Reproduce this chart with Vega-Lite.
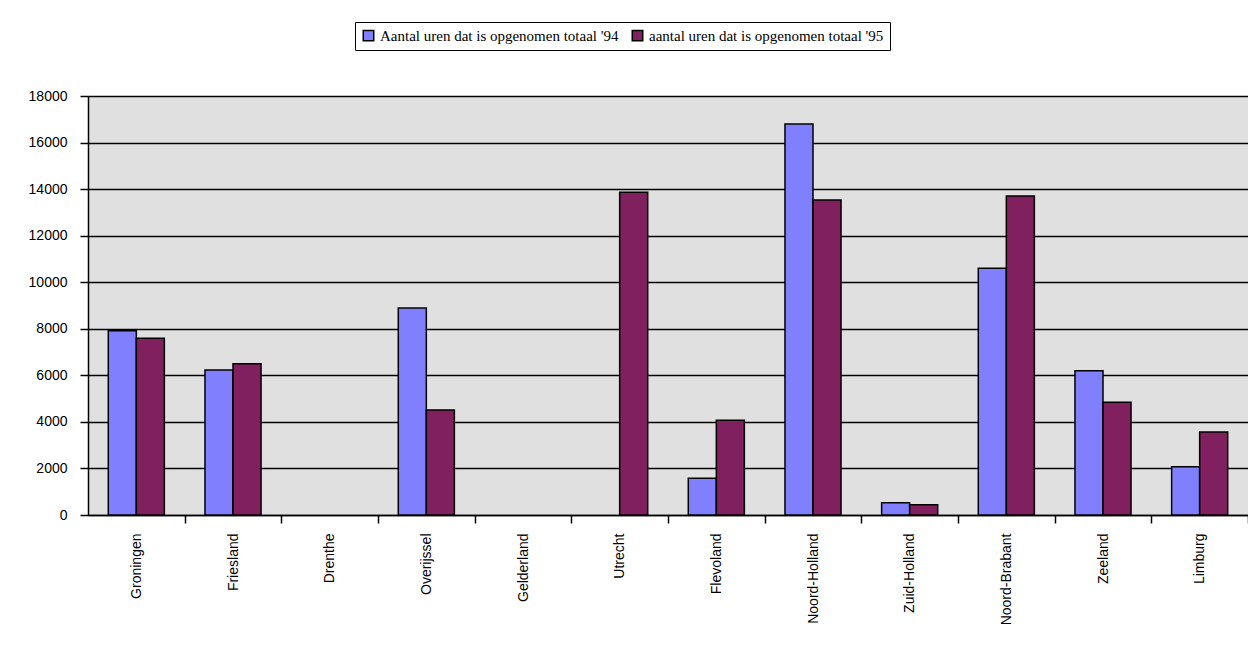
{
  "$schema": "https://vega.github.io/schema/vega-lite/v6.json",
  "width": 1160,
  "height": 419,
  "autosize": {"type": "none"},
  "padding": {"left": 88, "top": 96, "right": 0, "bottom": 155},
  "background": "white",
  "data": {
    "values": [
      {"provincie": "Groningen", "reeks": "Aantal uren dat is opgenomen totaal '94", "uren": 7920},
      {"provincie": "Groningen", "reeks": "aantal uren dat is opgenomen totaal '95", "uren": 7590},
      {"provincie": "Friesland", "reeks": "Aantal uren dat is opgenomen totaal '94", "uren": 6230},
      {"provincie": "Friesland", "reeks": "aantal uren dat is opgenomen totaal '95", "uren": 6500},
      {"provincie": "Overijssel", "reeks": "Aantal uren dat is opgenomen totaal '94", "uren": 8890},
      {"provincie": "Overijssel", "reeks": "aantal uren dat is opgenomen totaal '95", "uren": 4510},
      {"provincie": "Utrecht", "reeks": "aantal uren dat is opgenomen totaal '95", "uren": 13860},
      {"provincie": "Flevoland", "reeks": "Aantal uren dat is opgenomen totaal '94", "uren": 1580},
      {"provincie": "Flevoland", "reeks": "aantal uren dat is opgenomen totaal '95", "uren": 4070},
      {"provincie": "Noord-Holland", "reeks": "Aantal uren dat is opgenomen totaal '94", "uren": 16800},
      {"provincie": "Noord-Holland", "reeks": "aantal uren dat is opgenomen totaal '95", "uren": 13530},
      {"provincie": "Zuid-Holland", "reeks": "Aantal uren dat is opgenomen totaal '94", "uren": 530},
      {"provincie": "Zuid-Holland", "reeks": "aantal uren dat is opgenomen totaal '95", "uren": 445},
      {"provincie": "Noord-Brabant", "reeks": "Aantal uren dat is opgenomen totaal '94", "uren": 10600},
      {"provincie": "Noord-Brabant", "reeks": "aantal uren dat is opgenomen totaal '95", "uren": 13700},
      {"provincie": "Zeeland", "reeks": "Aantal uren dat is opgenomen totaal '94", "uren": 6200},
      {"provincie": "Zeeland", "reeks": "aantal uren dat is opgenomen totaal '95", "uren": 4840},
      {"provincie": "Limburg", "reeks": "Aantal uren dat is opgenomen totaal '94", "uren": 2075},
      {"provincie": "Limburg", "reeks": "aantal uren dat is opgenomen totaal '95", "uren": 3570}
    ]
  },
  "mark": {"type": "bar", "stroke": "black", "strokeWidth": 1.5},
  "encoding": {
    "x": {
      "field": "provincie",
      "type": "nominal",
      "sort": null,
      "scale": {
        "domain": ["Groningen", "Friesland", "Drenthe", "Overijssel", "Gelderland", "Utrecht", "Flevoland", "Noord-Holland", "Zuid-Holland", "Noord-Brabant", "Zeeland", "Limburg"],
        "paddingInner": 0.42,
        "paddingOuter": 0.21
      },
      "axis": {
        "title": null,
        "labelAngle": -90,
        "labelAlign": "right",
        "labelBaseline": "middle",
        "labelFont": "Liberation Sans",
        "labelFontSize": 14,
        "labelColor": "black",
        "labelPadding": 10,
        "tickOffset": 48.33,
        "labelOffset": -48.33,
        "tickColor": "black",
        "tickSize": 8,
        "tickWidth": 1.5,
        "domainColor": "black",
        "domainWidth": 1.5,
        "grid": false
      }
    },
    "xOffset": {
      "field": "reeks",
      "type": "nominal",
      "scale": {"domain": ["Aantal uren dat is opgenomen totaal '94", "aantal uren dat is opgenomen totaal '95"], "paddingInner": 0, "paddingOuter": 0}
    },
    "y": {
      "field": "uren",
      "type": "quantitative",
      "scale": {"domain": [0, 18000], "nice": false},
      "axis": {
        "title": null,
        "values": [0, 2000, 4000, 6000, 8000, 10000, 12000, 14000, 16000, 18000],
        "format": "d",
        "labelFont": "Liberation Sans",
        "labelFontSize": 14,
        "labelColor": "black",
        "labelPadding": 13,
        "tickColor": "black",
        "tickSize": 8,
        "tickWidth": 1.5,
        "domainColor": "black",
        "domainWidth": 1.5,
        "grid": true,
        "gridColor": "black",
        "gridWidth": 1.5
      }
    },
    "color": {
      "field": "reeks",
      "type": "nominal",
      "scale": {
        "domain": ["Aantal uren dat is opgenomen totaal '94", "aantal uren dat is opgenomen totaal '95"],
        "range": ["#8080ff", "#80205f"]
      },
      "legend": {
        "title": null,
        "orient": "none",
        "direction": "horizontal",
        "legendX": 267,
        "legendY": -74,
        "strokeColor": "black",
        "padding": 6,
        "symbolType": "square",
        "symbolSize": 110,
        "symbolStrokeColor": "black",
        "symbolStrokeWidth": 1.5,
        "labelFont": "Liberation Serif",
        "labelFontSize": 15,
        "labelColor": "black",
        "labelLimit": 400,
        "columnPadding": 10
      }
    }
  },
  "config": {
    "view": {"fill": "#e0e0e0", "stroke": "#808080", "strokeWidth": 1}
  }
}
